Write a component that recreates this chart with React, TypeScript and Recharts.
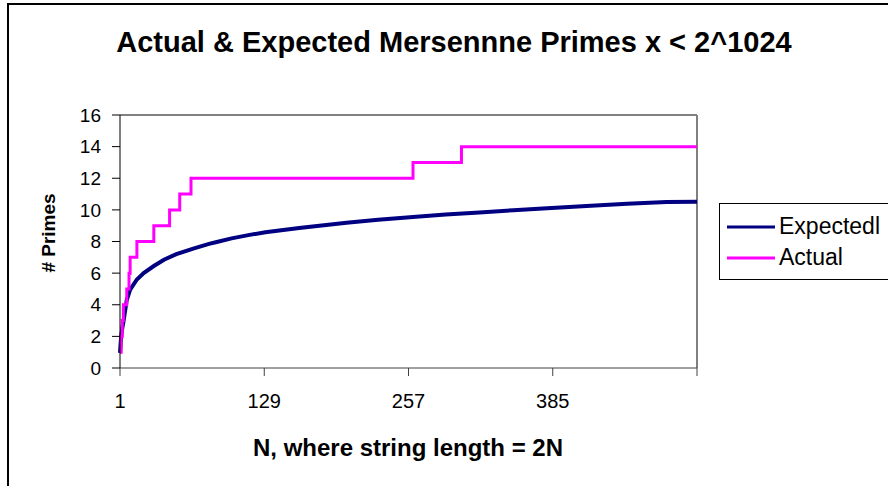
import { LineChart, Line, XAxis, YAxis, ReferenceLine } from 'recharts'

// x = N (string length = 2N)
const expectedN = [1, 2, 3, 4, 7, 10, 16, 22, 31, 40, 51, 66, 80, 86, 100, 116, 130, 160, 202, 230, 261, 290, 320, 350, 380, 415, 451, 486, 513]
const expectedPrimes = [0.95, 2.0, 2.5, 2.9, 4.3, 4.95, 5.6, 6.0, 6.45, 6.85, 7.2, 7.55, 7.85, 7.95, 8.2, 8.42, 8.58, 8.85, 9.18, 9.38, 9.55, 9.7, 9.83, 9.98, 10.1, 10.25, 10.38, 10.5, 10.52]

const actualN = [1, 2, 3, 4, 7, 9, 10, 16, 31, 45, 54, 64, 261, 304, 513]
const actualPrimes = [1, 2, 3, 4, 5, 6, 7, 8, 9, 10, 11, 12, 13, 14, 14]

const xTicks = [1, 129, 257, 385, 513]
const yTicks = [0, 2, 4, 6, 8, 10, 12, 14, 16]

const expectedData = expectedN.map((n, i) => ({ n, value: expectedPrimes[i] }))
const actualData = actualN.map((n, i) => ({ n, value: actualPrimes[i] }))

const font = '"Liberation Sans", Arial, sans-serif'

function ChartLegend() {
  const items = [
    { label: 'Expectedl', color: '#000080' },
    { label: 'Actual', color: '#FF00FF' },
  ]
  return (
    <div
      style={{
        position: 'absolute',
        left: 719,
        top: 203,
        border: '1px solid #000',
        background: '#fff',
        width: 172,
        height: 77,
        boxSizing: 'border-box',
        padding: '7px 0 0 7px',
        fontFamily: font,
        fontSize: 23,
        color: '#000',
      }}
    >
      {items.map((it) => (
        <div key={it.label} style={{ display: 'flex', alignItems: 'center', height: 31 }}>
          <svg width={48} height={6} style={{ marginRight: 4 }}>
            <line x1={0} y1={3} x2={48} y2={3} stroke={it.color} strokeWidth={3} />
          </svg>
          <span>{it.label}</span>
        </div>
      ))}
    </div>
  )
}

export default function App() {
  return (
    <div style={{ position: 'absolute', left: 0, top: 0, width: 888, height: 486, background: '#fff', overflow: 'hidden' }}>
      <div style={{ position: 'absolute', left: 7, top: 3, width: 900, height: 500, borderLeft: '2px solid #000', borderTop: '2px solid #000' }} />
      <div
        style={{
          position: 'absolute',
          left: 0,
          width: 908,
          top: 26,
          textAlign: 'center',
          fontFamily: font,
          fontWeight: 'bold',
          fontSize: 29,
          color: '#000',
        }}
      >
        Actual &amp; Expected Mersennne Primes x &lt; 2^1024
      </div>
      <LineChart
        width={888}
        height={486}
        margin={{ top: 115, right: 191, left: 60, bottom: 48 }}
        style={{ position: 'absolute', left: 0, top: 0 }}
      >
        <XAxis
          dataKey="n"
          type="number"
          domain={[1, 513]}
          ticks={xTicks}
          interval={0}
          allowDuplicatedCategory={false}
          tickFormatter={(v: number) => (v === 513 ? '' : String(v))}
          tick={{ fill: '#000', fontSize: 20, fontFamily: font }}
          tickSize={8}
          tickMargin={18}
          stroke="#404040"
          height={70}
        />
        <YAxis
          type="number"
          domain={[0, 16]}
          ticks={yTicks}
          interval={0}
          tick={{ fill: '#000', fontSize: 19, fontFamily: font }}
          tickSize={8}
          tickMargin={11}
          stroke="#000"
          width={60}
        />
        <ReferenceLine y={16} stroke="#808080" strokeWidth={2} />
        <ReferenceLine x={513} stroke="#808080" strokeWidth={2} />
        <Line
          data={expectedData}
          dataKey="value"
          name="Expectedl"
          type="linear"
          stroke="#000080"
          strokeWidth={4}
          dot={false}
          isAnimationActive={false}
        />
        <Line
          data={actualData}
          dataKey="value"
          name="Actual"
          type="stepAfter"
          stroke="#FF00FF"
          strokeWidth={3}
          dot={false}
          isAnimationActive={false}
        />
      </LineChart>
      <ChartLegend />
      <div
        style={{
          position: 'absolute',
          left: 408,
          top: 448,
          transform: 'translate(-50%, -50%)',
          fontFamily: font,
          fontWeight: 'bold',
          fontSize: 24,
          whiteSpace: 'nowrap',
          color: '#000',
        }}
      >
        N, where string length = 2N
      </div>
      <div
        style={{
          position: 'absolute',
          left: 49,
          top: 233,
          transform: 'translate(-50%, -50%) rotate(-90deg)',
          fontFamily: font,
          fontWeight: 'bold',
          fontSize: 19,
          whiteSpace: 'nowrap',
          color: '#000',
        }}
      >
        # Primes
      </div>
    </div>
  )
}
